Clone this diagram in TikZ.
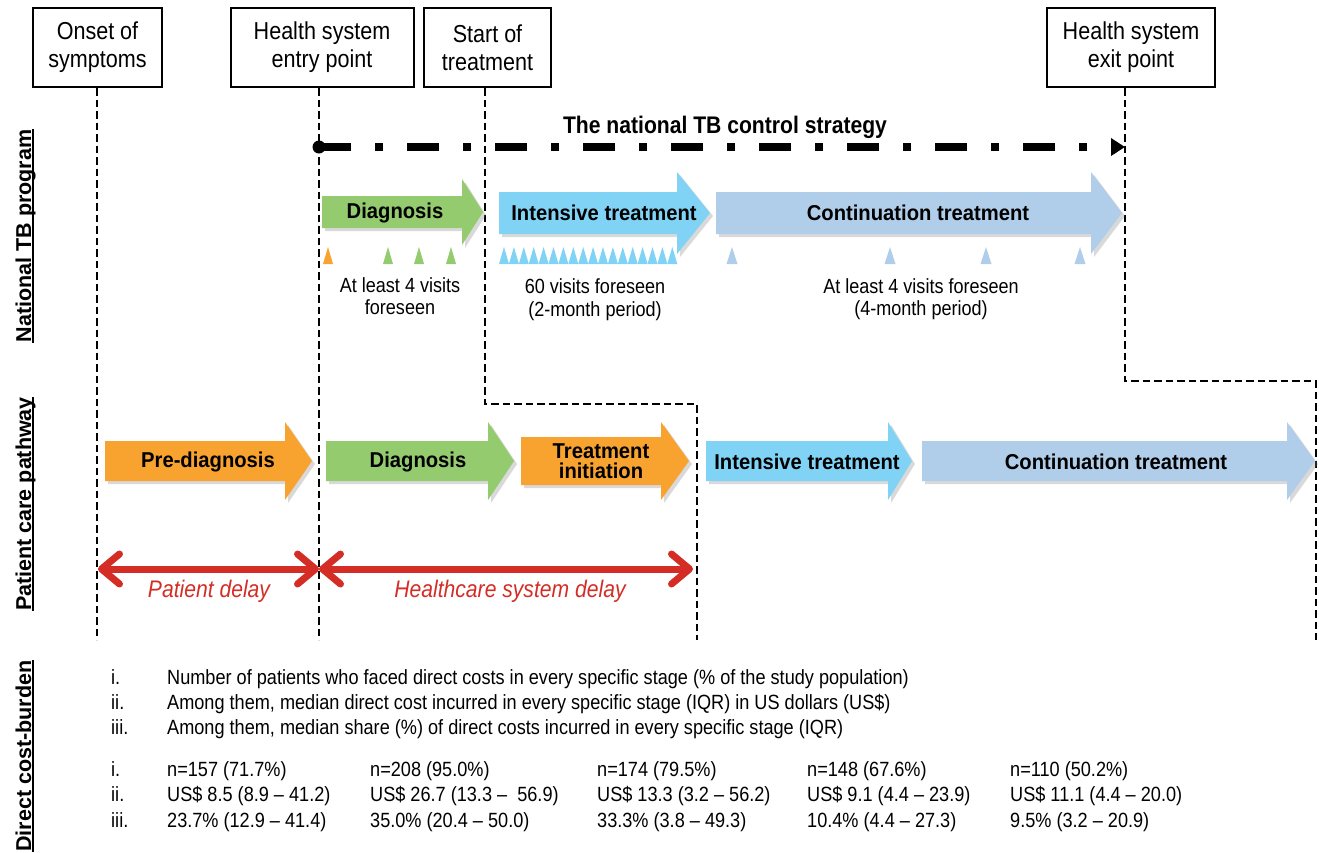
\documentclass[tikz,border=0pt]{standalone}
\usepackage{fontspec}
\setmainfont[FakeStretch=0.88]{Liberation Sans}
\newfontfamily\arrfont[FakeStretch=0.94]{Liberation Sans}
\newfontfamily\sidefont{Liberation Sans}
\usetikzlibrary{arrows.meta,shadows}
\definecolor{tborange}{RGB}{248,163,48}
\definecolor{tbgreen}{RGB}{148,203,110}
\definecolor{tbsky}{RGB}{128,211,245}
\definecolor{tblight}{RGB}{176,206,234}
\definecolor{tbred}{RGB}{212,45,38}
\newcommand\stageshape[7]{%
  \fill[#7,stageshadow] (#1,#4-#5) -- (#2,#4-#5) -- (#2,#4-#6) -- (#3,#4) -- (#2,#4+#6) -- (#2,#4+#5) -- (#1,#4+#5) -- cycle;}
\newcommand\visittri[3]{\fill[#3] (#1-#2,264) -- (#1+#2,264) -- (#1,247) -- cycle;}
\begin{document}
\begin{tikzpicture}[x=1pt,y=-1pt,
  markbox/.style={draw,line width=2pt,minimum height=79pt,align=center,inner sep=2pt,
    font=\fontsize{24.5}{28}\selectfont},
  vline/.style={line width=2.4pt,dash pattern=on 7.5pt off 4pt},
  stageshadow/.style={drop shadow={opacity=0.3,shadow xshift=3pt,shadow yshift=-3pt}},
  arrtext/.style={font=\arrfont\bfseries\fontsize{21.5}{20}\selectfont,align=center,inner sep=0pt},
  visits/.style={font=\fontsize{20.5}{22.5}\selectfont,align=center,inner sep=0pt},
  delay/.style={draw=tbred,line width=7pt,line cap=round,
    {Straight Barb[length=18pt,width=30pt,line cap=round,line join=round]}-{Straight Barb[length=18pt,width=30pt,line cap=round,line join=round]}},
  delaytext/.style={text=tbred,font=\itshape\fontsize{24}{28}\selectfont,inner sep=0pt},
  side/.style={font=\sidefont\bfseries\fontsize{21.5}{24}\selectfont,rotate=90,anchor=base,inner sep=0pt},
  uline/.style={line width=1.8pt},
  listtext/.style={font=\fontsize{20.6}{24}\selectfont,anchor=base west,inner sep=0pt},
  dashdot/.style={line width=7.5pt,dash pattern=on 32pt off 24pt on 8pt off 24pt,
    -{Triangle[length=14pt,width=17pt]}}
]
\useasboundingbox (0,0) rectangle (1319,852);

% milestone boxes
\node[markbox,minimum width=129pt] (onset) at (97.5,47.5) {Onset of\\symptoms};
\node[markbox,minimum width=183pt] (entry) at (322,47.5) {Health system\\entry point};
\node[markbox,minimum width=127pt] (start) at (487.5,47.5) {Start of\\treatment};
\node[markbox,minimum width=168pt] (exit) at (1131,47.5) {Health system\\exit point};

% dashed timeline lines
\coordinate (b1) at (97,640);
\coordinate (b2) at (319,640);
\coordinate (b3) at (697,640);
\coordinate (b4) at (1316,640);
\coordinate (t3) at (485,404);
\coordinate (t4) at (1125,381);
\draw[vline] (onset.south -| b1) -- (b1);
\draw[vline] (entry.south -| b2) -- (b2);
\draw[vline] (start.south -| t3) -- (t3) -| (b3);
\draw[vline] (exit.south -| t4) -- (t4) -| (b4);

% national strategy line
\coordinate (dotc) at (319,147);
\coordinate (nend) at (1125,147);
\draw[dashdot] (dotc) -- (nend);
\node[circle,fill,inner sep=0pt,minimum size=13pt] (dot) at (dotc) {};
\node[font=\bfseries\fontsize{24}{28}\selectfont,inner sep=0pt] (nts) at (725,127) {The national TB control strategy};

% top stage arrows
\stageshape{322}{462}{483}{212}{16}{33}{tbgreen}
\node[arrtext] (tdiag) at (395,213) {Diagnosis};
\stageshape{499}{677}{710}{213}{21}{41}{tbsky}
\node[arrtext] (tint) at (604,213) {Intensive treatment};
\stageshape{716}{1091}{1122}{213}{21}{41}{tblight}
\node[arrtext] (tcont) at (918,213) {Continuation treatment};

% visit markers
\visittri{328}{5}{tborange}
\foreach \x in {388,419,451} {\visittri{\x}{5}{tbgreen}}
\foreach \i in {0,...,17} {\pgfmathsetmacro\xx{504+\i*9.9}\visittri{\xx}{5}{tbsky}}
\foreach \x in {732,890,986,1080} {\visittri{\x}{5.5}{tblight}}

\node[visits] (v1) at (400,296) {At least 4 visits\\foreseen};
\node[visits] (v2) at (595,299.5) {60 visits foreseen\\(2-month period)};
\node[visits] (v3) at (921,299) {At least 4 visits foreseen\\(4-month period)};

% patient pathway arrows
\stageshape{105}{285}{312}{461}{20}{39}{tborange}
\node[arrtext] (ppre) at (208,462) {Pre-diagnosis};
\stageshape{326}{488}{514}{461}{20}{39}{tbgreen}
\node[arrtext] (pdiag) at (418,462) {Diagnosis};
\stageshape{521}{661}{689}{461}{24}{39}{tborange}
\node[arrtext] (pti) at (601,461) {Treatment\\initiation};
\stageshape{706}{888}{912}{461}{20}{39}{tbsky}
\node[arrtext] (pint) at (807,462) {Intensive treatment};
\stageshape{922}{1287}{1315}{461}{20}{39}{tblight}
\node[arrtext] (pcont) at (1116,462) {Continuation treatment};

% delays
\coordinate (d0) at (98,569);
\coordinate (d1) at (319,569);
\coordinate (d2) at (693,569);
\draw[delay] (d0) -- (d1);
\draw[delay] (d1) -- (d2);
\node[delaytext] (pd) at (209,591) {Patient delay};
\node[delaytext] (hd) at (510,591) {Healthcare system delay};

% side labels
\node[side] (s1) at (31,236) {National TB program};
\node[side] (s2) at (31,504) {Patient care pathway};
\node[side] (s3) at (31,756) {Direct cost-burden};
\draw[uline] ([xshift=2pt]s1.base west) -- ([xshift=2pt]s1.base east);
\draw[uline] ([xshift=2pt]s2.base west) -- ([xshift=2pt]s2.base east);
\draw[uline] ([xshift=2pt]s3.base west) -- ([xshift=2pt]s3.base east);

% cost burden legend
\node[listtext] (r1) at (111,684) {i.};
\node[listtext] (r2) at (111,709) {ii.};
\node[listtext] (r3) at (111,734) {iii.};
\node[listtext] (l1) at (167,684) {Number of patients who faced direct costs in every specific stage (\% of the study population)};
\node[listtext] (l2) at (167,709) {Among them, median direct cost incurred in every specific stage (IQR) in US dollars (US\$)};
\node[listtext] (l3) at (167,734) {Among them, median share (\%) of direct costs incurred in every specific stage (IQR)};

\node[listtext] (q1) at (111,776) {i.};
\node[listtext] (q2) at (111,801) {ii.};
\node[listtext] (q3) at (111,827) {iii.};

\node[listtext] (c11) at (167,776) {n=157 (71.7\%)};
\node[listtext] (c12) at (167,801) {US\$ 8.5 (8.9 – 41.2)};
\node[listtext] (c13) at (167,827) {23.7\% (12.9 – 41.4)};
\node[listtext] (c21) at (370,776) {n=208 (95.0\%)};
\node[listtext] (c22) at (370,801) {US\$ 26.7 (13.3 –\ \ 56.9)};
\node[listtext] (c23) at (370,827) {35.0\% (20.4 – 50.0)};
\node[listtext] (c31) at (597,776) {n=174 (79.5\%)};
\node[listtext] (c32) at (597,801) {US\$ 13.3 (3.2 – 56.2)};
\node[listtext] (c33) at (597,827) {33.3\% (3.8 – 49.3)};
\node[listtext] (c41) at (807,776) {n=148 (67.6\%)};
\node[listtext] (c42) at (807,801) {US\$ 9.1 (4.4 – 23.9)};
\node[listtext] (c43) at (807,827) {10.4\% (4.4 – 27.3)};
\node[listtext] (c51) at (1010,776) {n=110 (50.2\%)};
\node[listtext] (c52) at (1010,801) {US\$ 11.1 (4.4 – 20.0)};
\node[listtext] (c53) at (1010,827) {9.5\% (3.2 – 20.9)};
\end{tikzpicture}
\end{document}
